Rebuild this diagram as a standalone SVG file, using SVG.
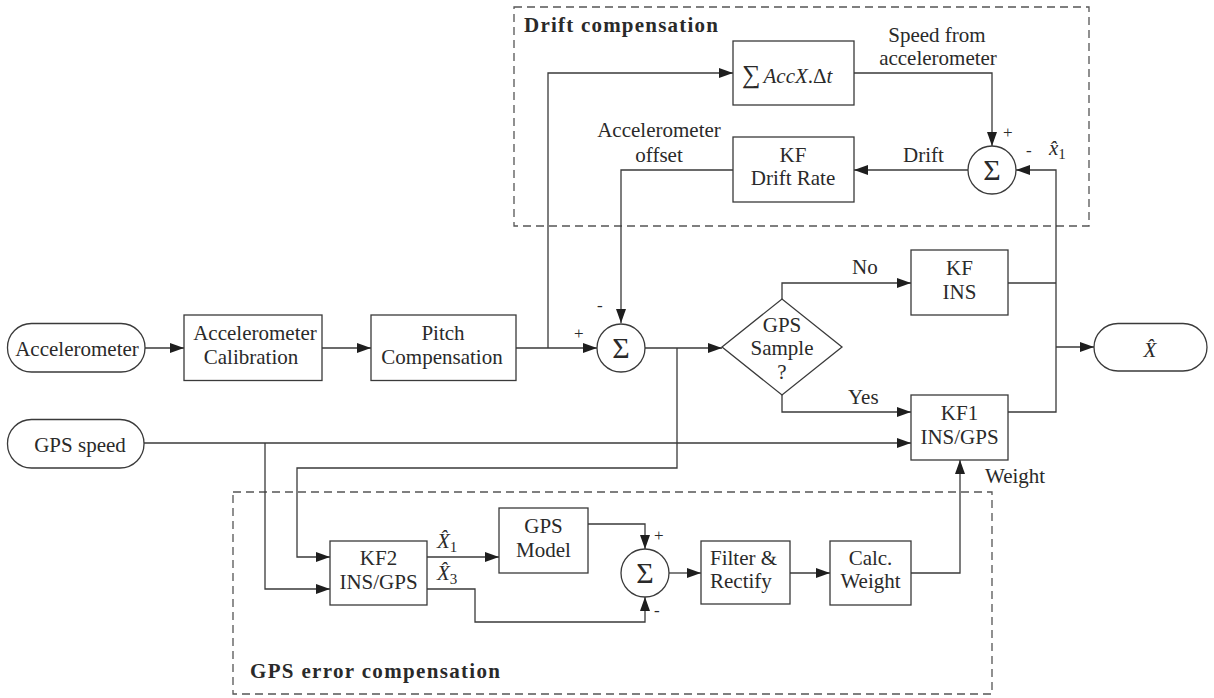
<svg xmlns="http://www.w3.org/2000/svg" width="1214" height="698" viewBox="0 0 1214 698">
  <style>
    .bg { fill: #ffffff; }
    .box { fill: #ffffff; stroke: #3a3a3a; stroke-width: 1.3; }
    .group { fill: none; stroke: #555555; stroke-width: 1.3; stroke-dasharray: 8 5; }
    .wire { fill: none; stroke: #3a3a3a; stroke-width: 1.3; }
    .arr { marker-end: url(#head); }
    text { font-family: "Liberation Serif", "Times New Roman", serif; font-size: 21px; fill: #2a2a2a; }
    .c { text-anchor: middle; }
    .title { font-weight: bold; }
    .sig { font-size: 30px; text-anchor: middle; }
    .sgn { font-size: 17px; }
    .it { font-style: italic; }
    .sub { font-size: 15px; }
  </style>
  <defs>
    <marker id="head" markerWidth="14" markerHeight="10" refX="14" refY="5" orient="auto" markerUnits="userSpaceOnUse">
      <path d="M0,0 L14,5 L0,10 z" fill="#1e1e1e"/>
    </marker>
  </defs>

  <rect class="bg" x="0" y="0" width="1214" height="698"/>

  <!-- grouping frames -->
  <g id="drift-compensation">
    <rect class="group" x="514" y="7" width="575" height="219"/>
    <text class="title" x="524" y="32" textLength="194">Drift compensation</text>
  </g>
  <g id="gps-error-compensation">
    <rect class="group" x="233" y="492" width="759" height="202"/>
    <text class="title" x="250" y="678" textLength="250">GPS error compensation</text>
  </g>

  <!-- connectors -->
  <g id="connectors">
    <path class="wire arr" d="M145,348 H184"/>
    <path class="wire arr" d="M322,348 H371"/>
    <path class="wire arr" d="M516,348 H597"/>
    <path class="wire arr" d="M548,348 V73 H733"/>
    <path class="wire arr" d="M854,73 H992 V146"/>
    <path class="wire arr" d="M968,170 H854"/>
    <path class="wire arr" d="M733,170 H621 V323"/>
    <path class="wire arr" d="M645,348 H722"/>
    <path class="wire arr" d="M677,348 V468 H297 V557 H330"/>
    <path class="wire arr" d="M782,299 V283 H911"/>
    <path class="wire arr" d="M782,395 V412 H911"/>
    <path class="wire arr" d="M144,443 H911"/>
    <path class="wire arr" d="M265,443 V589 H330"/>
    <path class="wire" d="M1008,283 H1056"/>
    <path class="wire arr" d="M1008,412 H1056 V170 H1016"/>
    <path class="wire arr" d="M1056,347 H1094"/>
    <path class="wire arr" d="M427,557 H499"/>
    <path class="wire arr" d="M588,524 H645 V549"/>
    <path class="wire arr" d="M427,589 H475 V622 H645 V597"/>
    <path class="wire arr" d="M669,573 H701"/>
    <path class="wire arr" d="M790,573 H830"/>
    <path class="wire arr" d="M911,573 H960 V460"/>

    <!-- signal labels -->
    <text class="c" x="937" y="42">Speed from</text>
    <text class="c" x="938" y="65">accelerometer</text>
    <text class="c" x="659" y="137">Accelerometer</text>
    <text class="c" x="659" y="162">offset</text>
    <text x="903" y="162">Drift</text>
    <text x="852" y="274">No</text>
    <text x="848" y="404">Yes</text>
    <text x="985" y="483">Weight</text>
    <text x="1049" y="155"><tspan class="it">x̂</tspan><tspan class="sub" dy="4">1</tspan></text>
    <text x="437" y="548"><tspan class="it">X̂</tspan><tspan class="sub" dy="4">1</tspan></text>
    <text x="437" y="580"><tspan class="it">X̂</tspan><tspan class="sub" dy="4">3</tspan></text>
    <text class="sgn" x="1003" y="138">+</text>
    <text class="sgn" x="1026" y="156">-</text>
    <text class="sgn" x="574" y="339">+</text>
    <text class="sgn" x="597" y="311">-</text>
    <text class="sgn" x="654" y="541">+</text>
    <text class="sgn" x="654" y="616">-</text>
  </g>

  <!-- terminals -->
  <g id="accelerometer">
    <rect class="box" x="7.5" y="323.5" width="137.5" height="48.5" rx="24" ry="24"/>
    <text class="c" x="77" y="356">Accelerometer</text>
  </g>
  <g id="gps-speed">
    <rect class="box" x="7.5" y="419.5" width="136.5" height="48.5" rx="24" ry="24"/>
    <text class="c" x="80" y="452">GPS speed</text>
  </g>
  <g id="x-hat">
    <rect class="box" x="1094" y="323.5" width="113" height="47.5" rx="24" ry="24"/>
    <text class="c it" x="1150" y="357">X̂</text>
  </g>

  <!-- blocks -->
  <g id="accelerometer-calibration">
    <rect class="box" x="184" y="315" width="138" height="65.5"/>
    <text class="c" x="255" y="340">Accelerometer</text>
    <text class="c" x="251" y="364">Calibration</text>
  </g>
  <g id="pitch-compensation">
    <rect class="box" x="371" y="315" width="145" height="65.5"/>
    <text class="c" x="443" y="340">Pitch</text>
    <text class="c" x="442" y="364">Compensation</text>
  </g>
  <g id="integrate-acc">
    <rect class="box" x="733" y="41" width="121" height="64"/>
    <text x="742" y="83"><tspan font-size="26">∑</tspan><tspan class="it" dx="3">AccX</tspan>.Δ<tspan class="it">t</tspan></text>
  </g>
  <g id="kf-drift-rate">
    <rect class="box" x="733" y="137" width="121" height="65"/>
    <text class="c" x="793" y="162">KF</text>
    <text class="c" x="793" y="185">Drift Rate</text>
  </g>
  <g id="drift-sum">
    <circle class="box" cx="992" cy="170" r="24"/>
    <text class="sig" x="992" y="180">Σ</text>
  </g>
  <g id="main-sum">
    <circle class="box" cx="621" cy="348" r="24"/>
    <text class="sig" x="621" y="358">Σ</text>
  </g>
  <g id="gps-sample">
    <path class="box" d="M722,347 L782,299 L842,347 L782,395 Z"/>
    <text class="c" x="782" y="332">GPS</text>
    <text class="c" x="782" y="355">Sample</text>
    <text class="c" x="782" y="379">?</text>
  </g>
  <g id="kf-ins">
    <rect class="box" x="911" y="250" width="97" height="65"/>
    <text class="c" x="959.5" y="275">KF</text>
    <text class="c" x="959.5" y="299">INS</text>
  </g>
  <g id="kf1-ins-gps">
    <rect class="box" x="911" y="395" width="97" height="65"/>
    <text class="c" x="959.5" y="420">KF1</text>
    <text class="c" x="959.5" y="444">INS/GPS</text>
  </g>
  <g id="kf2-ins-gps">
    <rect class="box" x="330" y="541" width="97" height="64"/>
    <text class="c" x="378.5" y="565">KF2</text>
    <text class="c" x="378.5" y="589">INS/GPS</text>
  </g>
  <g id="gps-model">
    <rect class="box" x="499" y="508" width="89" height="65"/>
    <text class="c" x="543.5" y="533">GPS</text>
    <text class="c" x="543.5" y="557">Model</text>
  </g>
  <g id="error-sum">
    <circle class="box" cx="645" cy="573" r="24"/>
    <text class="sig" x="645" y="583">Σ</text>
  </g>
  <g id="filter-rectify">
    <rect class="box" x="701" y="541" width="89" height="63"/>
    <text x="710" y="565">Filter &amp;</text>
    <text x="710" y="588">Rectify</text>
  </g>
  <g id="calc-weight">
    <rect class="box" x="830" y="541" width="81" height="64"/>
    <text class="c" x="870.5" y="565">Calc.</text>
    <text class="c" x="870.5" y="588">Weight</text>
  </g>
</svg>
